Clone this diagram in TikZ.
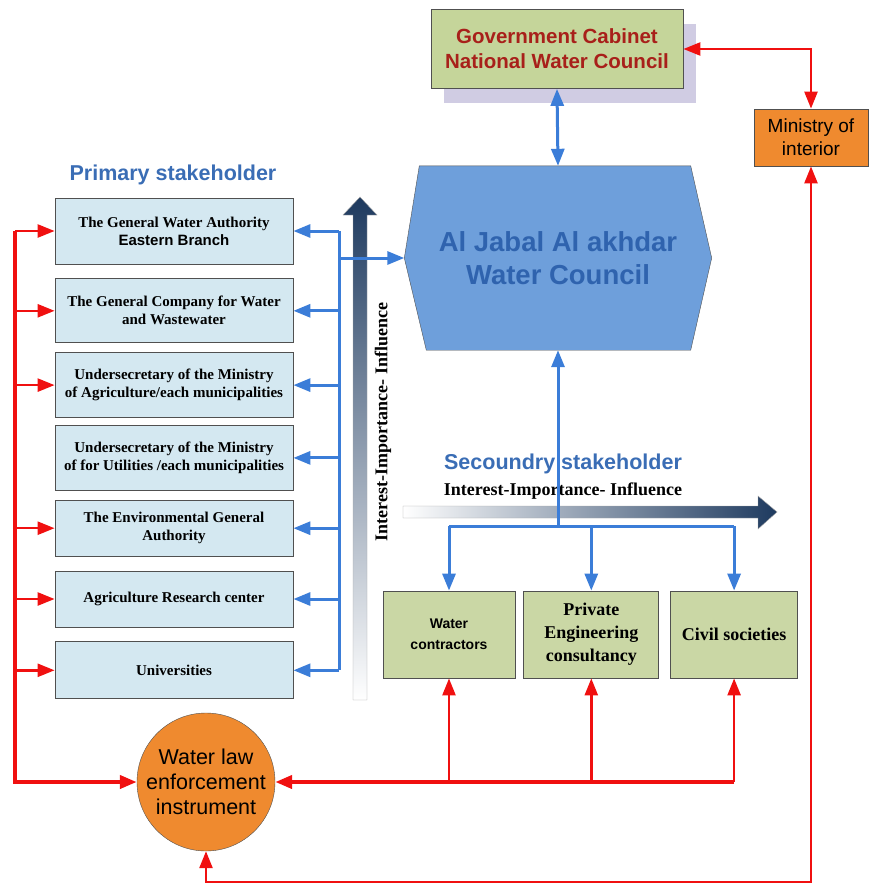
\documentclass[tikz,border=0pt]{standalone}
\usepackage{fontspec}
\setmainfont{Liberation Serif}
\setsansfont{Liberation Sans}
\usetikzlibrary{arrows.meta, backgrounds, calc, positioning, shadows}
\definecolor{PrimFill}{HTML}{D4E8F1}
\definecolor{SecFill}{HTML}{CAD7A5}
\definecolor{GovFill}{HTML}{C5D59A}
\definecolor{GovText}{HTML}{A8201A}
\definecolor{GovShadow}{HTML}{D0CCE3}
\definecolor{HexFill}{HTML}{6E9FDB}
\definecolor{HexText}{HTML}{2F63AE}
\definecolor{LineBlue}{HTML}{3B7DD8}
\definecolor{LabelBlue}{HTML}{3A6DB5}
\definecolor{LineRed}{HTML}{F01010}
\definecolor{Orange}{HTML}{EF8A2F}
\definecolor{Navy}{HTML}{1E3A5F}
\definecolor{EdgeGray}{HTML}{505050}
\tikzset{%
  prim_block/.style={%
    rectangle,%
    draw=EdgeGray,%
    thick,%
    fill=PrimFill,%
    minimum width=238pt,%
    font={\fontsize{15}{18}\selectfont\bfseries},%
    align=center%
  },
  sec_block/.style={%
    rectangle,%
    draw=EdgeGray,%
    thick,%
    fill=SecFill,%
    minimum height=87pt,%
    font={\fontsize{18}{23}\selectfont\bfseries},%
    align=center%
  },
  gov_block/.style={%
    rectangle,%
    draw=EdgeGray,%
    thick,%
    fill=GovFill,%
    minimum width=252pt,%
    minimum height=79pt,%
    text=GovText,%
    font={\fontsize{20.5}{25}\selectfont\sffamily\bfseries},%
    align=center,%
    drop shadow={shadow xshift=13pt, shadow yshift=-14pt, fill=GovShadow, opacity=1}%
  },
  min_block/.style={%
    rectangle,%
    draw=EdgeGray,%
    thick,%
    fill=Orange,%
    minimum width=114pt,%
    minimum height=57pt,%
    font={\fontsize{19}{23}\selectfont\sffamily},%
    align=center%
  },
  law_circle/.style={%
    circle,%
    draw=EdgeGray,%
    fill=Orange,%
    minimum size=138pt,%
    inner sep=0pt,%
    font={\fontsize{21.5}{25}\selectfont\sffamily},%
    align=center%
  },
  council_text/.style={%
    minimum width=307pt,%
    minimum height=184pt,%
    text=HexText,%
    font={\fontsize{27.5}{33}\selectfont\sffamily\bfseries},%
    align=center%
  },
  hex_shape/.style={%
    draw=EdgeGray,%
    fill=HexFill,%
    line join=round%
  },
  stake_label/.style={%
    text=LabelBlue,%
    font={\fontsize{21.5}{25}\selectfont\sffamily\bfseries}%
  },
  axis_label/.style={%
    font={\fontsize{18}{22}\selectfont\bfseries}%
  },
  grad_arrow/.style={%
    draw=gray!70,%
    line join=miter%
  },
  blue_path/.style={%
    color=LineBlue,%
    line width=3pt,%
    line join=miter%
  },
  red_path/.style={%
    color=LineRed,%
    line width=2.5pt,%
    line join=miter%
  },
  red_thick/.style={%
    color=LineRed,%
    line width=4pt,%
    line join=miter%
  },
  arrow/.style={-{Triangle[length=17pt, width=13pt]}},
  twoarrow/.style={{Triangle[length=17pt, width=13pt]}-{Triangle[length=17pt, width=13pt]}},
}

\begin{document}
\begin{tikzpicture}[x=1pt, y=-1pt]
    \useasboundingbox (0,0) rectangle (868,886);

    % top of the chart
    \node [gov_block] (Gov) at (557,49) {%
      Government Cabinet\\National Water Council%
    };
    \node [min_block] (Ministry) at (811,137.5) {%
      Ministry of\\interior%
    };
    \node [council_text] (Council) at (558,258) {%
      Al Jabal Al akhdar\\Water Council%
    };
    \begin{scope}[on background layer]
      \draw [hex_shape]
        (Council.west)
        --
        ($(Council.north west)+(15,0)$)
        --
        ($(Council.north east)+(-21,0)$)
        --
        (Council.east)
        --
        ($(Council.south east)+(-21,0)$)
        --
        ($(Council.south west)+(22,0)$)
        --
        cycle;
    \end{scope}

    % primary stakeholders
    \node [stake_label] (PrimLabel) at (173,175) {Primary stakeholder};
    \node [prim_block, minimum height=66pt] (P1) at (174,231) {%
      The General Water Authority\\\textsf{Eastern Branch}%
    };
    \node [prim_block, minimum height=64pt, below = 14pt of P1] (P2) {%
      The General Company for Water\\and Wastewater%
    };
    \node [prim_block, minimum height=65pt, below = 9pt of P2] (P3) {%
      Undersecretary of the Ministry\\of Agriculture/each municipalities%
    };
    \node [prim_block, minimum height=65pt, below = 7pt of P3] (P4) {%
      Undersecretary of the Ministry\\of for Utilities /each municipalities%
    };
    \node [prim_block, minimum height=56pt, below = 9pt of P4] (P5) {%
      The Environmental General\\Authority%
    };
    \node [prim_block, minimum height=56pt, below = 14pt of P5] (P6) {%
      Agriculture Research center%
    };
    \node [prim_block, minimum height=57pt, below = 14pt of P6] (P7) {%
      Universities%
    };

    % secondary stakeholders
    \node [stake_label] (SecLabel) at (563,464) {Secoundry stakeholder};
    \node [axis_label] (HLabel) at (563,491) {Interest-Importance- Influence};
    \node [sec_block, minimum width=132pt,
      font={\fontsize{14}{21}\selectfont\sffamily\bfseries}] (S1) at (449,634.5) {%
      Water\\contractors%
    };
    \node [sec_block, minimum width=135pt, right = 8pt of S1] (S2) {%
      Private\\Engineering\\consultancy%
    };
    \node [sec_block, minimum width=127pt, right = 11pt of S2] (S3) {%
      Civil societies%
    };

    \node [law_circle] (Law) at (206,782) {%
      Water law\\enforcement\\instrument%
    };

    % importance arrows
    \shade [grad_arrow, top color=Navy, bottom color=white]
      (353,700) -- (353,215) -- (343,215) -- (360,197)
      -- (377,215) -- (367,215) -- (367,700) -- cycle;
    \node [axis_label, rotate=90] (VLabel) at (383,422) {%
      Interest-Importance- Influence%
    };
    \shade [grad_arrow, left color=white, right color=Navy]
      (403,506) -- (758,506) -- (758,496) -- (777,512)
      -- (758,529) -- (758,518) -- (403,518) -- cycle;

    \coordinate (Bus) at (339,0);
    \coordinate (RedBus) at (15,0);
    \coordinate (SecBus) at (0,526);
    \coordinate (BottomY) at (0,882);

    % blue links
    \draw [blue_path, twoarrow]
      (Gov.south)
      --
      (Council.north);
    \draw [blue_path]
      (Bus |- P1.east)
      --
      (Bus |- P7.east);
    \foreach \n in {P1,P2,P3,P4,P5,P6,P7}
      \draw [blue_path, arrow] (Bus |- \n.east) -- (\n.east);
    \draw [blue_path, arrow]
      (Bus |- Council.west)
      --
      (Council.west);
    \draw [blue_path, arrow]
      (Council.south |- SecBus)
      --
      (Council.south);
    \draw [blue_path]
      (S1.north |- SecBus)
      --
      (S3.north |- SecBus);
    \foreach \n in {S1,S2,S3}
      \draw [blue_path, arrow] (\n.north |- SecBus) -- (\n.north);

    % red links
    \draw [red_path, twoarrow]
      (Gov.east)
      -|
      (Ministry.north);
    \draw [red_thick, arrow]
      (RedBus |- P1.west)
      --
      (RedBus |- Law.west)
      --
      (Law.west);
    \foreach \n in {P1,P2,P3,P5,P6,P7}
      \draw [red_path, arrow] (RedBus |- \n.west) -- (\n.west);
    \draw [red_thick, arrow]
      (S3.south |- Law.east)
      --
      (Law.east);
    \foreach \n in {S1,S2,S3}
      \draw [red_path, arrow] (\n.south |- Law.east) -- (\n.south);
    \draw [red_path, twoarrow]
      (Ministry.south)
      --
      (Ministry.south |- BottomY)
      -|
      (Law.south);
\end{tikzpicture}
\end{document}
